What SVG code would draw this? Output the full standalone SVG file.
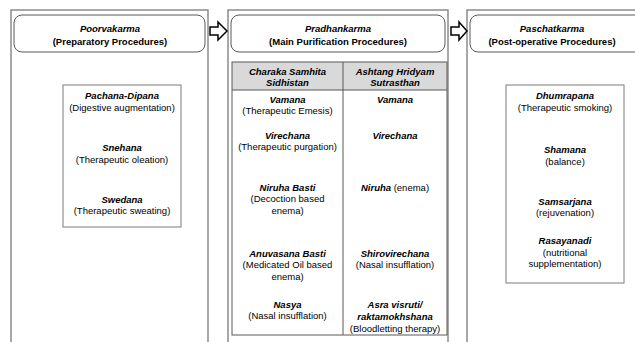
<svg xmlns="http://www.w3.org/2000/svg" width="635" height="342" viewBox="0 0 635 342">
<style>
text{font-family:"Liberation Sans",Arial,sans-serif;font-size:9.5px;fill:#000;text-anchor:middle}
.b{font-weight:bold;font-style:italic}
.t{font-weight:bold}
.outer{fill:none;stroke:#8c8c8c;stroke-width:1.5}
.title{fill:#fff;stroke:#595959;stroke-width:1}
.inner{fill:#fff;stroke:#7a7a7a;stroke-width:1}
.tbl{fill:none;stroke:#595959;stroke-width:1}
.arrow{fill:#fff;stroke:#000;stroke-width:1.5;stroke-linejoin:miter}
</style>
<rect width="635" height="342" fill="#fff"/>

<g id="poorvakarma">
<path class="outer" d="M11,342 V10 H208 V342"/>
<rect class="title" x="14" y="15" width="191" height="37" rx="8"/>
<text x="110" y="32" class="b">Poorvakarma</text>
<text x="110" y="44.5" class="t">(Preparatory Procedures)</text>
<rect class="inner" x="63" y="85" width="118" height="142"/>
<text x="122" y="99" class="b">Pachana-Dipana</text>
<text x="122" y="110.5">(Digestive augmentation)</text>
<text x="122" y="150.5" class="b">Snehana</text>
<text x="122" y="163">(Therapeutic oleation)</text>
<text x="122" y="202.5" class="b">Swedana</text>
<text x="122" y="214">(Therapeutic sweating)</text>
</g>

<g id="pradhankarma">
<path class="outer" d="M228,342 V10 H448 V342"/>
<rect class="title" x="231" y="15" width="214" height="37" rx="8"/>
<text x="338" y="32" class="b">Pradhankarma</text>
<text x="338" y="44.5" class="t">(Main Purification Procedures)</text>
<rect x="232" y="62" width="215" height="28" fill="#d9d9d9"/>
<rect class="tbl" x="232" y="62" width="215" height="273"/>
<line class="tbl" x1="232" y1="90" x2="447" y2="90"/>
<line class="tbl" x1="343" y1="62" x2="343" y2="335"/>
<text x="287.5" y="74.5" class="b">Charaka Samhita</text>
<text x="287.5" y="86" class="b">Sidhistan</text>
<text x="395" y="74.5" class="b">Ashtang Hridyam</text>
<text x="395" y="86" class="b">Sutrasthan</text>
<text x="287.5" y="102.5" class="b">Vamana</text>
<text x="287.5" y="114">(Therapeutic Emesis)</text>
<text x="395" y="102.5" class="b">Vamana</text>
<text x="287.5" y="138.5" class="b">Virechana</text>
<text x="287.5" y="150">(Therapeutic purgation)</text>
<text x="395" y="138.5" class="b">Virechana</text>
<text x="287.5" y="190.5" class="b">Niruha Basti</text>
<text x="287.5" y="202">(Decoction based</text>
<text x="287.5" y="213.5">enema)</text>
<text x="395" y="190.5"><tspan class="b">Niruha</tspan> (enema)</text>
<text x="287.5" y="256.5" class="b">Anuvasana Basti</text>
<text x="287.5" y="268">(Medicated Oil based</text>
<text x="287.5" y="279.5">enema)</text>
<text x="395" y="256.5" class="b">Shirovirechana</text>
<text x="395" y="268">(Nasal insufflation)</text>
<text x="287.5" y="307.5" class="b">Nasya</text>
<text x="287.5" y="319">(Nasal insufflation)</text>
<text x="395" y="307.5" class="b">Asra visruti/</text>
<text x="395" y="319.5" class="b">raktamokhshana</text>
<text x="395" y="331.5">(Bloodletting therapy)</text>
</g>

<g id="paschatkarma">
<path class="outer" d="M467,342 V10 H640"/>
<rect class="title" x="470" y="15" width="175" height="37" rx="8"/>
<text x="552" y="32" class="b">Paschatkarma</text>
<text x="552" y="44.5" class="t">(Post-operative Procedures)</text>
<rect class="inner" x="506" y="85" width="118" height="198"/>
<text x="565" y="99" class="b">Dhumrapana</text>
<text x="565" y="110.5">(Therapeutic smoking)</text>
<text x="565" y="152.5" class="b">Shamana</text>
<text x="565" y="165">(balance)</text>
<text x="565" y="204.5" class="b">Samsarjana</text>
<text x="565" y="216">(rejuvenation)</text>
<text x="565" y="243.5" class="b">Rasayanadi</text>
<text x="565" y="255.5">(nutritional</text>
<text x="565" y="267">supplementation)</text>
</g>

<g id="connectors">
<path class="arrow" d="M210,27 H218 V22 L227,31 L218,40 V35 H210 Z"/>
<path class="arrow" d="M451,27 H459 V22 L467,31 L459,40 V35 H451 Z"/>
</g>
</svg>
